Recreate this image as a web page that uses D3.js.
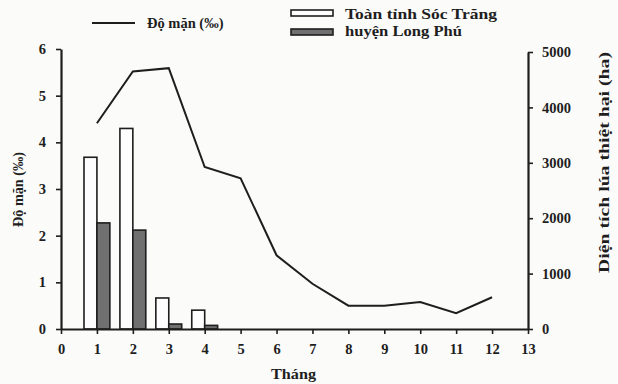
<!DOCTYPE html>
<html>
<head>
<meta charset="utf-8">
<script src="https://cdn.jsdelivr.net/npm/d3@7"></script>
<style>
  body { margin: 0; background: #fbfbf9; }
</style>
</head>
<body>
<svg id="chart" width="618" height="384"></svg>
<script>
// months 0..13 on the x axis
const months = [1, 2, 3, 4, 5, 6, 7, 8, 9, 10, 11, 12];
const salinity = [4.41, 5.52, 5.59, 3.47, 3.23, 1.58, 0.97, 0.50, 0.50, 0.58, 0.34, 0.68];

const barMonths = [1, 2, 3, 4];
const soctrang = [3100, 3620, 560, 340];   // Toàn tỉnh Sóc Trăng (ha)
const longphu = [1915, 1785, 90, 65];      // huyện Long Phú (ha)

const xTicks = d3.range(0, 14);
const leftTicks = [0, 1, 2, 3, 4, 5, 6];
const rightTicks = [0, 1000, 2000, 3000, 4000, 5000];

const svg = d3.select("#chart");
const x = d3.scaleLinear().domain([0, 13]).range([61, 528]);
const yL = d3.scaleLinear().domain([0, 6]).range([329, 49]);
const yR = d3.scaleLinear().domain([0, 5000]).range([329, 52]);
const bw = 0.36; // bar width in months

const ink = "#1e1e1e";
const grey = "#707070";
const serif = "'Liberation Serif', 'Times New Roman', 'DejaVu Serif', serif";

// bars
svg.append("g").selectAll("rect")
  .data(barMonths)
  .enter().append("rect")
  .attr("x", (d) => x(d - bw))
  .attr("y", (d, i) => yR(soctrang[i]))
  .attr("width", x(bw) - x(0))
  .attr("height", (d, i) => yR(0) - yR(soctrang[i]))
  .attr("fill", "#fdfdfd")
  .attr("stroke", ink)
  .attr("stroke-width", 1.6);

svg.append("g").selectAll("rect")
  .data(barMonths)
  .enter().append("rect")
  .attr("x", (d) => x(d))
  .attr("y", (d, i) => yR(longphu[i]))
  .attr("width", x(bw) - x(0))
  .attr("height", (d, i) => yR(0) - yR(longphu[i]))
  .attr("fill", grey)
  .attr("stroke", ink)
  .attr("stroke-width", 1.6);

// salinity line
const line = d3.line()
  .x((d, i) => x(months[i]))
  .y((d) => yL(d));
svg.append("path")
  .datum(salinity)
  .attr("d", line)
  .attr("fill", "none")
  .attr("stroke", ink)
  .attr("stroke-width", 2);

// axes
function styleAxis(g) {
  g.attr("font-family", null).attr("font-size", null);
  g.selectAll("path.domain").attr("stroke", ink).attr("stroke-width", 2.2);
  g.selectAll(".tick line").attr("stroke", ink).attr("stroke-width", 1.6);
  g.selectAll(".tick text")
    .style("font-family", serif)
    .style("font-weight", "bold")
    .style("font-size", "14.5px")
    .attr("fill", ink);
}

svg.append("g")
  .attr("transform", "translate(0,329)")
  .call(d3.axisBottom(x).tickValues(xTicks).tickSize(5).tickPadding(10)
    .tickFormat(d3.format("d")).tickSizeOuter(0))
  .call(styleAxis);

svg.append("g")
  .attr("transform", "translate(61,0)")
  .call(d3.axisLeft(yL).tickValues(leftTicks).tickSize(5).tickPadding(10)
    .tickFormat(d3.format("d")).tickSizeOuter(0))
  .call(styleAxis);

svg.append("g")
  .attr("transform", "translate(528,0)")
  .call(d3.axisRight(yR).tickValues(rightTicks).tickSize(5).tickPadding(9)
    .tickFormat(d3.format("d")).tickSizeOuter(0))
  .call(styleAxis);

// text helper
function label(sel, txt, size, len) {
  const t = sel.append("text")
    .style("font-family", serif)
    .style("font-weight", "bold")
    .style("font-size", size + "px")
    .attr("fill", ink)
    .text(txt);
  if (len) t.attr("textLength", len).attr("lengthAdjust", "spacingAndGlyphs");
  return t;
}

// axis titles
label(svg, "Tháng", 15, 45)
  .attr("x", 271).attr("y", 379);

label(svg, "Độ mặn (‰)", 14, 75)
  .attr("transform", "translate(23,227) rotate(-90)");

label(svg, "Diện tích lúa thiệt hại (ha)", 15, 221)
  .attr("transform", "translate(609,273) rotate(-90)");

// legend
const lg = svg.append("g");
lg.append("line")
  .attr("x1", 92).attr("x2", 135).attr("y1", 23).attr("y2", 23)
  .attr("stroke", ink).attr("stroke-width", 2);
label(lg, "Độ mặn (‰)", 14.5).attr("x", 147).attr("y", 28);

lg.append("rect")
  .attr("x", 291).attr("y", 10).attr("width", 42).attr("height", 6)
  .attr("fill", "#fdfdfd").attr("stroke", ink).attr("stroke-width", 1.6);
label(lg, "Toàn tỉnh Sóc Trăng", 15, 152).attr("x", 345).attr("y", 18.5);

lg.append("rect")
  .attr("x", 291).attr("y", 29).attr("width", 42).attr("height", 6)
  .attr("fill", grey).attr("stroke", ink).attr("stroke-width", 1.6);
label(lg, "huyện Long Phú", 15, 117).attr("x", 345).attr("y", 35.5);
</script>
</body>
</html>
